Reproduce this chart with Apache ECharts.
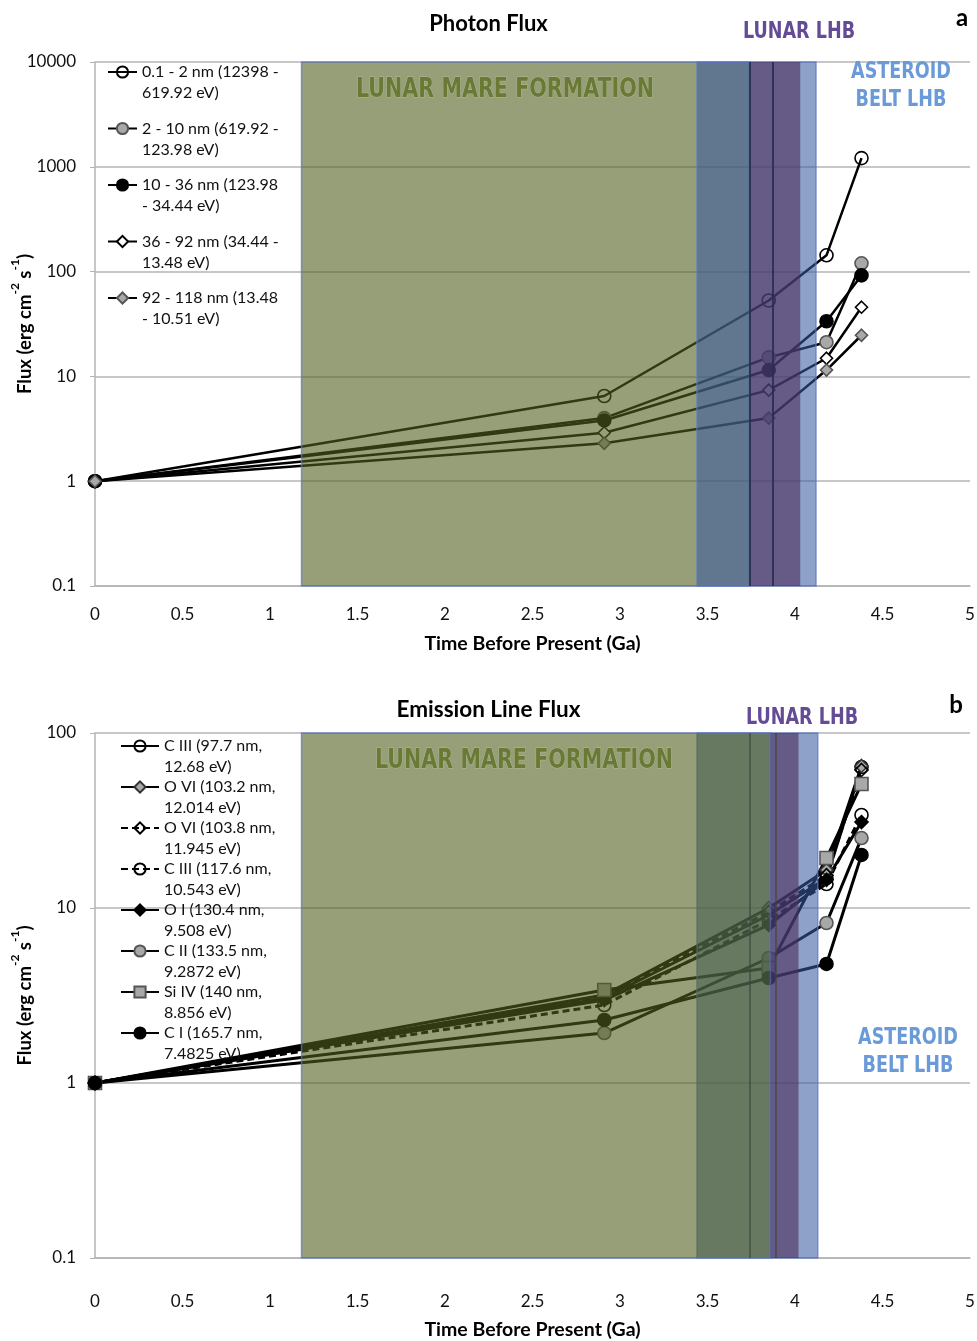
<!DOCTYPE html>
<html><head><meta charset="utf-8">
<script src="https://cdn.jsdelivr.net/npm/echarts@6/dist/echarts.min.js"></script>
<style>html,body{margin:0;padding:0;background:#fff}#c{width:977px;height:1341px}</style>
</head><body><div id="c"></div>
<script>
// ---------- data ----------
const xTimes = [0, 2.91, 3.85, 4.18, 4.38];
const xTickLabels = ['0','0.5','1','1.5','2','2.5','3','3.5','4','4.5','5'];
const yTicksTop = [0.1, 1, 10, 100, 1000, 10000];
const yLabelsTop = ['0.1','1','10','100','1000','10000'];
const yTicksBot = [0.1, 1, 10, 100];
const yLabelsBot = ['0.1','1','10','100'];

// Photon flux (panel a)
const topNames = ['0.1 - 2 nm (12398 - 619.92 eV)','2 - 10 nm (619.92 - 123.98 eV)','10 - 36 nm (123.98 - 34.44 eV)','36 - 92 nm (34.44 - 13.48 eV)','92 - 118 nm (13.48 - 10.51 eV)'];
const topLegendLines = [['0.1 - 2 nm (12398 -','619.92 eV)'],['2 - 10 nm (619.92 -','123.98 eV)'],['10 - 36 nm (123.98','- 34.44 eV)'],['36 - 92 nm (34.44 -','13.48 eV)'],['92 - 118 nm (13.48','- 10.51 eV)']];
const flux01_2nm  = [1, 6.5, 53, 143, 1210];
const flux2_10nm  = [1, 4.0, 15.2, 21.2, 120];
const flux10_36nm = [1, 3.8, 11.5, 33.6, 92];
const flux36_92nm = [1, 2.9, 7.4, 14.9, 45.7];
const flux92_118nm= [1, 2.3, 4.0, 11.5, 24.7];

// Emission line flux (panel b)
const botNames = ['C III (97.7 nm, 12.68 eV)','O VI (103.2 nm, 12.014 eV)','O VI (103.8 nm, 11.945 eV)','C III (117.6 nm, 10.543 eV)','O I (130.4 nm, 9.508 eV)','C II (133.5 nm, 9.2872 eV)','Si IV (140 nm, 8.856 eV)','C I (165.7 nm, 7.4825 eV)'];
const botLegendLines = [['C III (97.7 nm,','12.68 eV)'],['O VI (103.2 nm,','12.014 eV)'],['O VI (103.8 nm,','11.945 eV)'],['C III (117.6 nm,','10.543 eV)'],['O I (130.4 nm,','9.508 eV)'],['C II (133.5 nm,','9.2872 eV)'],['Si IV (140 nm,','8.856 eV)'],['C I (165.7 nm,','7.4825 eV)']];
const cIII977  = [1, 3.06, 9.12, 14.8, 63.9];
const oVI1032  = [1, 3.18, 10.0, 16.5, 64.8];
const oVI1038  = [1, 3.10, 9.49, 15.4, 61.5];
const cIII1176 = [1, 2.79, 8.54, 13.7, 34.0];
const oI1304   = [1, 2.98, 8.0, 14.5, 31.0];
const cII1335  = [1, 1.93, 5.18, 8.21, 25.1];
const siIV1400 = [1, 3.40, 4.54, 19.3, 51.1];
const cI1657   = [1, 2.29, 3.98, 4.79, 20.1];

// shaded epochs (Ga)
const mareRange = [1.18, 3.74];
const asteroidRangeTop = [3.44, 4.12];
const lunarRangeTop = [3.74, 4.03];
const lunarLinesTop = [3.74, 3.87];
const mareRangeBot = [1.18, 3.86];
const asteroidRangeBot = [3.44, 4.13];
const lunarRangeBot = [3.86, 4.02];
const lunarLinesBot = [3.74, 3.89];

// ---------- styles ----------
const FONT = "Lato, 'Open Sans', sans-serif";
const NARROW = "'Liberation Sans Narrow', 'DejaVu Sans Condensed', 'Liberation Sans', sans-serif";
const GRID_C = '#b4b4b4';
const GREEN = 'rgba(80,95,30,0.6)';
const BLUE = 'rgba(55,90,160,0.57)';
const PURPLE = 'rgba(75,45,90,0.6)';
const BORDER = 'rgba(95,120,200,0.75)';

function lbl(ticks, labels){
  return function(v){
    const i = ticks.findIndex(t => Math.abs(Math.log10(t) - Math.log10(v)) < 1e-6);
    return i >= 0 ? labels[i] : '';
  };
}
function xAx(gi, margin, nameGap){
  return {type:'value', gridIndex:gi, min:0, max:5, interval:0.5,
    axisLine:{show:true, onZero:false, lineStyle:{color:GRID_C, width:1.5}},
    axisTick:{show:false},
    splitLine:{show:false},
    axisLabel:{color:'#111', fontSize:17, fontFamily:FONT, margin:margin,
      formatter:(v)=>xTickLabels[Math.round(v*2)]},
    name:'Time Before Present (Ga)', nameLocation:'middle', nameGap:nameGap, nameMoveOverlap:false,
    nameTextStyle:{fontWeight:'bold', fontSize:19.5, color:'#000', fontFamily:FONT}};
}
function yAx(gi, min, max, ticks, labels){
  return {type:'log', logBase:10, gridIndex:gi, min:min, max:max,
    axisLine:{show:true, lineStyle:{color:GRID_C, width:1.5}},
    axisTick:{show:true, length:5, lineStyle:{color:GRID_C}},
    minorTick:{show:false},
    splitLine:{show:true, lineStyle:{color:GRID_C, width:1.5}},
    axisLabel:{color:'#111', fontSize:17, fontFamily:FONT, margin:19, formatter:lbl(ticks, labels)},
    name:'{a|Flux (erg cm}{s|-2}{a| s}{s|-1}{a|)}', nameLocation:'middle', nameGap:60, nameMoveOverlap:false,
    nameTextStyle:{rich:{
      a:{fontSize:18.5, fontWeight:'bold', fontFamily:FONT, color:'#000', verticalAlign:'bottom', lineHeight:26},
      s:{fontSize:12, fontWeight:'bold', fontFamily:FONT, color:'#000', verticalAlign:'top', lineHeight:26}}}};
}
function ser(gi, name, vals, sym, fill, border, lw, dash, size){
  return {type:'line', name:name, xAxisIndex:gi, yAxisIndex:gi,
    data: xTimes.map((x,i)=>[x, vals[i]]),
    symbol:sym, symbolSize:size, showAllSymbol:true,
    lineStyle:{color:'#000', width:lw, type:dash ? [7,4] : 'solid'},
    itemStyle:{color:fill, borderColor:border, borderWidth:1.6},
    z:3, animation:false};
}
function overlay(gi, areas, lines, lineColor){
  return {type:'line', xAxisIndex:gi, yAxisIndex:gi, data:[], z:10, silent:true, animation:false,
    markArea:{z:10, silent:true,
      data: areas.map(a => [{xAxis:a[0], itemStyle:{color:a[2], borderColor:a[3], borderWidth:a[3]==='none'?0:1.5}}, {xAxis:a[1]}])},
    markLine:{z:11, silent:true, symbol:'none', label:{show:false},
      lineStyle:{color:lineColor, width:2, type:'solid'},
      data: lines.map(x => ({xAxis:x}))}};
}

const series = [
  ser(0, topNames[0], flux01_2nm, 'circle', 'rgba(255,255,255,0)', '#000', 2.5, false, 13),
  ser(0, topNames[1], flux2_10nm, 'circle', '#a8a8a8', '#555', 2.5, false, 13),
  ser(0, topNames[2], flux10_36nm, 'circle', '#000', '#000', 2.5, false, 13),
  ser(0, topNames[3], flux36_92nm, 'diamond', '#fff', '#000', 2.5, false, 12),
  ser(0, topNames[4], flux92_118nm, 'diamond', '#a8a8a8', '#555', 2.5, false, 12),
  ser(1, botNames[0], cIII977, 'circle', 'rgba(255,255,255,0)', '#000', 3, false, 13),
  ser(1, botNames[1], oVI1032, 'diamond', '#a8a8a8', '#333', 3, false, 13),
  ser(1, botNames[2], oVI1038, 'diamond', 'rgba(255,255,255,0)', '#000', 3, true, 13),
  ser(1, botNames[3], cIII1176, 'circle', 'rgba(255,255,255,0)', '#000', 3, true, 13),
  ser(1, botNames[4], oI1304, 'diamond', '#000', '#000', 3, false, 13),
  ser(1, botNames[5], cII1335, 'circle', '#a8a8a8', '#555', 3, false, 13),
  ser(1, botNames[6], siIV1400, 'rect', '#a8a8a8', '#555', 3, false, 13),
  ser(1, botNames[7], cI1657, 'circle', '#000', '#000', 3, false, 13),
  overlay(0, [[mareRange[0], mareRange[1], GREEN, BORDER],
              [asteroidRangeTop[0], asteroidRangeTop[1], BLUE, BORDER],
              [lunarRangeTop[0], lunarRangeTop[1], PURPLE, 'none']], lunarLinesTop, 'rgba(40,45,75,0.85)'),
  overlay(1, [[asteroidRangeBot[0], asteroidRangeBot[1], BLUE, BORDER],
              [mareRangeBot[0], mareRangeBot[1], GREEN, BORDER],
              [lunarRangeBot[0], lunarRangeBot[1], PURPLE, 'none']], lunarLinesBot, 'rgba(60,70,60,0.6)')
];

function legendOf(names, lines, left, top, gap, iw){
  return {data:names, orient:'vertical', left:left, top:top, padding:0, itemGap:gap,
    itemWidth:iw, itemHeight:14, selectedMode:false,
    formatter:(n)=>' \n' + lines[names.indexOf(n)].join('\n'),
    textStyle:{fontSize:16, fontFamily:FONT, color:'#111', lineHeight:21}};
}

function txt(x, y, text, color, size){
  return {type:'text', x:x, y:y, scaleX:0.85, z:100, silent:true,
    style:{text:text, fill:color, font:'bold '+size+'px '+NARROW, align:'center', verticalAlign:'middle',
      stroke:'rgba(255,255,255,0.25)', lineWidth:1}};
}

const option = {
  backgroundColor:'#fff',
  animation:false,
  title:[
    {text:'Photon Flux', left:'center', top:8, textStyle:{fontSize:22, fontWeight:'bold', fontFamily:FONT, color:'#000'}},
    {text:'Emission Line Flux', left:'center', top:693, textStyle:{fontSize:22.5, fontWeight:'bold', fontFamily:FONT, color:'#000'}}
  ],
  grid:[{left:95, top:62, width:875, height:524, outerBoundsMode:'none', containLabel:false},
        {left:95, top:733, width:875, height:525, outerBoundsMode:'none', containLabel:false}],
  xAxis:[xAx(0, 20, 48), xAx(1, 35, 62)],
  yAxis:[yAx(0, 0.1, 10000, yTicksTop, yLabelsTop), yAx(1, 0.1, 100, yTicksBot, yLabelsBot)],
  legend:[legendOf(topNames, topLegendLines, 107, 40.5, -6.5, 29),
          legendOf(botNames, botLegendLines, 120, 714.5, -22, 38)],
  graphic:[
    txt(505, 90, 'LUNAR MARE FORMATION', '#6a7a35', 27),
    txt(799, 32, 'LUNAR LHB', '#644b96', 23),
    txt(901, 72, 'ASTEROID', '#6a9bd8', 23),
    txt(901, 100, 'BELT LHB', '#6a9bd8', 23),
    txt(524, 761, 'LUNAR MARE FORMATION', '#6a7a35', 27),
    txt(802, 718, 'LUNAR LHB', '#644b96', 23),
    txt(908, 1038, 'ASTEROID', '#6a9bd8', 23),
    txt(908, 1066, 'BELT LHB', '#6a9bd8', 23),
    {type:'text', x:962, y:18, z:100, style:{text:'a', fill:'#000', font:'bold 24px '+FONT, align:'center', verticalAlign:'middle'}},
    {type:'text', x:956, y:705, z:100, style:{text:'b', fill:'#000', font:'bold 24px '+FONT, align:'center', verticalAlign:'middle'}}
  ],
  series:series
};
const chart = echarts.init(document.getElementById('c'), null, {renderer:'canvas'});
chart.setOption(option);
</script></body></html>
